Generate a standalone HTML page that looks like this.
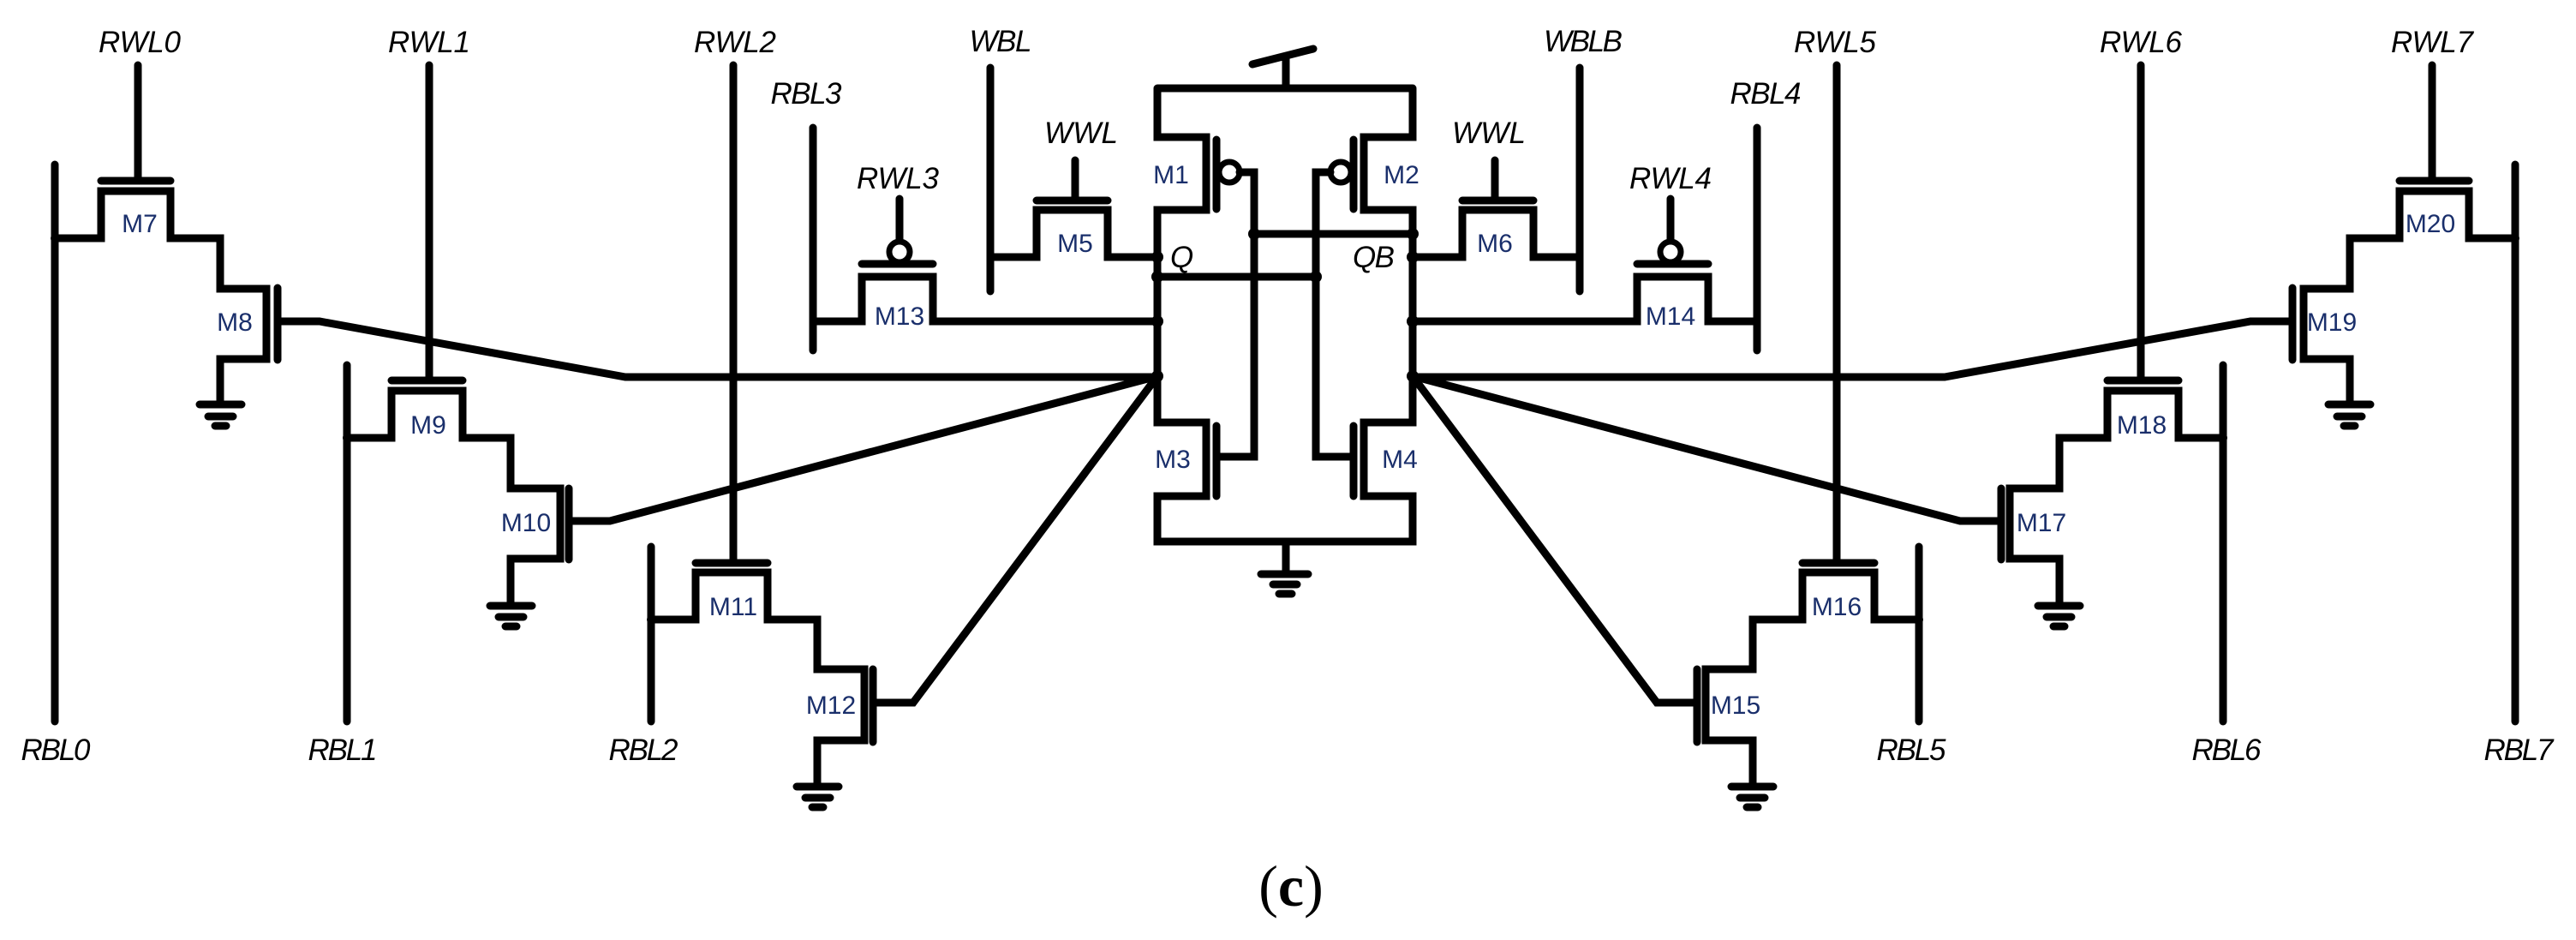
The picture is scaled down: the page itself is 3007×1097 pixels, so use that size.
<!DOCTYPE html>
<html><head><meta charset="utf-8"><style>
html,body{margin:0;padding:0;background:#fff;}
svg{display:block;}
.l{font-family:"Liberation Sans",sans-serif;font-style:italic;font-size:35px;fill:#000;}
.m{font-family:"Liberation Sans",sans-serif;font-size:30px;fill:#1a2f6b;}
</style></head><body>
<svg width="3007" height="1097" viewBox="0 0 3007 1097" xmlns="http://www.w3.org/2000/svg">
<defs>
<g id="half" fill="none" stroke="#000" stroke-width="9" stroke-linecap="round" stroke-linejoin="miter">
  <path d="M64 192 V842"/>
  <path d="M161 76 V211 M118 211 H199"/>
  <path d="M64 278 H118 V223 H199 V278 H257 V337 H311 V419 H257 V472"/>
  <path d="M324 336 V420"/>
  <path d="M324 375 H373 L730 440 H1351"/>
  <path d="M233 472 H282 M243 486 H272 M251 497 H264"/>
  <path d="M501 76 V444 M457 444 H540"/>
  <path d="M405 426 V842"/>
  <path d="M405 511 H457 V456 H540 V511 H596 V570 H654 V652 H596 V707"/>
  <path d="M664 570 V653"/>
  <path d="M664 608 H712 L1351 439"/>
  <path d="M572 707 H621 M582 720 H611 M590 731 H603"/>
  <path d="M856 76 V657 M812 657 H896"/>
  <path d="M760 638 V842"/>
  <path d="M760 723 H812 V668 H896 V723 H954 V781 H1009 V864 H954 V918"/>
  <path d="M1019 781 V866"/>
  <path d="M1019 820 H1066 L1351 439"/>
  <path d="M930 918 H979 M940 931 H969 M948 942 H961"/>
  <path d="M949 149 V409"/>
  <path d="M949 375 H1006 V323 H1089 V375 H1351"/>
  <path d="M1006 308 H1089"/>
  <path d="M1050 232 V282"/>
  <circle cx="1050" cy="294" r="12" fill="#fff" stroke-width="7"/>
  <path d="M1156 79 V340"/>
  <path d="M1156 300 H1210 V245 H1293 V300 H1351"/>
  <path d="M1210 234 H1293 M1255 187 V234"/>
  <path d="M1351 103 H1501 M1351 103 V160 H1408 V245 H1351 V493 H1408 V579 H1351 V632 H1501"/>
  <path d="M1420 163 V244 M1420 497 V579"/>
  <circle cx="1435" cy="201" r="12" fill="#fff" stroke-width="7"/>
  <path d="M1447 201 H1464 V533 H1420"/>
  <g fill="#000" stroke="none">
    <circle cx="1351" cy="300" r="7"/><circle cx="1351" cy="375" r="7"/><circle cx="1351" cy="439" r="7"/>
    <circle cx="64" cy="278" r="5"/><circle cx="405" cy="511" r="5"/><circle cx="760" cy="723" r="5"/>
  </g>
</g>
</defs>
<use href="#half"/>
<use href="#half" transform="translate(3000,0) scale(-1,1)"/>
<g fill="none" stroke="#000" stroke-width="9" stroke-linecap="round">
  <path d="M1462 75 L1533 57 M1501 65 V103"/>
  <path d="M1464 273 H1649 M1351 323 H1536"/>
  <path d="M1501 632 V670 M1472 670 H1527 M1486 682 H1514 M1493 693 H1508"/>
</g>
<g fill="#000"><circle cx="1464" cy="273" r="7"/><circle cx="1649" cy="273" r="7"/><circle cx="1351" cy="323" r="7"/><circle cx="1536" cy="323" r="7"/></g>

<text class="l" x="163" y="61" text-anchor="middle" textLength="96">RWL0</text>
<text class="l" x="501" y="61" text-anchor="middle" textLength="96">RWL1</text>
<text class="l" x="858" y="61" text-anchor="middle" textLength="96">RWL2</text>
<text class="l" x="941" y="121" text-anchor="middle" textLength="83">RBL3</text>
<text class="l" x="1168" y="60" text-anchor="middle" textLength="73">WBL</text>
<text class="l" x="1262" y="167" text-anchor="middle" textLength="86">WWL</text>
<text class="l" x="1048" y="220" text-anchor="middle" textLength="96">RWL3</text>
<text class="l" x="1848" y="60" text-anchor="middle" textLength="92">WBLB</text>
<text class="l" x="1738" y="167" text-anchor="middle" textLength="86">WWL</text>
<text class="l" x="1950" y="220" text-anchor="middle" textLength="96">RWL4</text>
<text class="l" x="2061" y="121" text-anchor="middle" textLength="83">RBL4</text>
<text class="l" x="2142" y="61" text-anchor="middle" textLength="96">RWL5</text>
<text class="l" x="2499" y="61" text-anchor="middle" textLength="96">RWL6</text>
<text class="l" x="2839" y="61" text-anchor="middle" textLength="96">RWL7</text>
<text class="l" x="1366" y="312" textLength="28">Q</text>
<text class="l" x="1579" y="312" textLength="49">QB</text>
<text class="l" x="65" y="887" text-anchor="middle" textLength="81">RBL0</text>
<text class="l" x="400" y="887" text-anchor="middle" textLength="81">RBL1</text>
<text class="l" x="751" y="887" text-anchor="middle" textLength="81">RBL2</text>
<text class="l" x="2231" y="887" text-anchor="middle" textLength="81">RBL5</text>
<text class="l" x="2599" y="887" text-anchor="middle" textLength="81">RBL6</text>
<text class="l" x="2940" y="887" text-anchor="middle" textLength="81">RBL7</text>
<text class="m" x="163" y="271" text-anchor="middle">M7</text>
<text class="m" x="274" y="386" text-anchor="middle">M8</text>
<text class="m" x="500" y="506" text-anchor="middle">M9</text>
<text class="m" x="614" y="620" text-anchor="middle">M10</text>
<text class="m" x="856" y="718" text-anchor="middle">M11</text>
<text class="m" x="970" y="833" text-anchor="middle">M12</text>
<text class="m" x="1050" y="379" text-anchor="middle">M13</text>
<text class="m" x="1255" y="294" text-anchor="middle">M5</text>
<text class="m" x="1367" y="214" text-anchor="middle">M1</text>
<text class="m" x="1369" y="546" text-anchor="middle">M3</text>
<text class="m" x="1636" y="214" text-anchor="middle">M2</text>
<text class="m" x="1634" y="546" text-anchor="middle">M4</text>
<text class="m" x="1745" y="294" text-anchor="middle">M6</text>
<text class="m" x="1950" y="379" text-anchor="middle">M14</text>
<text class="m" x="2026" y="833" text-anchor="middle">M15</text>
<text class="m" x="2144" y="718" text-anchor="middle">M16</text>
<text class="m" x="2383" y="620" text-anchor="middle">M17</text>
<text class="m" x="2500" y="506" text-anchor="middle">M18</text>
<text class="m" x="2722" y="386" text-anchor="middle">M19</text>
<text class="m" x="2837" y="271" text-anchor="middle">M20</text>
<text x="1507" y="1057" text-anchor="middle" font-family="'Liberation Serif',serif" font-size="68">(<tspan font-weight="bold">c</tspan>)</text>
</svg>
</body></html>
